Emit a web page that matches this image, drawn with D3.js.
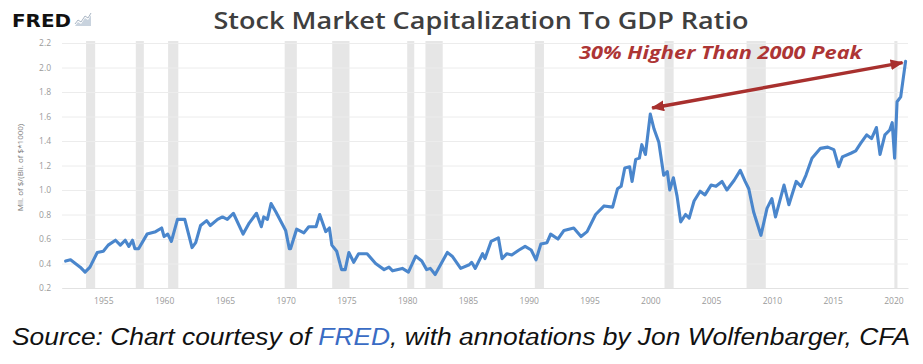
<!DOCTYPE html>
<html>
<head>
<meta charset="utf-8">
<script src="https://cdn.jsdelivr.net/npm/d3@7"></script>
<style>
  html, body { margin: 0; padding: 0; background: #fff; }
  svg { display: block; }
</style>
</head>
<body>
<svg id="chart" width="923" height="364"></svg>
<script>
// ---------------- DATA ----------------
const title = "Stock Market Capitalization To GDP Ratio";
const yAxisTitle = "Mil. of $/(Bil. of $*1000)";
const annotationText = "30% Higher Than 2000 Peak";
const sourcePrefix = "Source: Chart courtesy of ";
const sourceLink = "FRED";
const sourceSuffix = ", with annotations by Jon Wolfenbarger, CFA";

const xTicks = [1955, 1960, 1965, 1970, 1975, 1980, 1985, 1990, 1995, 2000, 2005, 2010, 2015, 2020];
const yTicks = [0.2, 0.4, 0.6, 0.8, 1.0, 1.2, 1.4, 1.6, 1.8, 2.0, 2.2];

const recessionStarts = [1953.58, 1957.67, 1960.33, 1969.92, 1973.83, 1980.0, 1981.5, 1990.5, 2001.17, 2007.92, 2020.08];
const recessionEnds   = [1954.33, 1958.33, 1961.17, 1970.92, 1975.25, 1980.58, 1982.92, 1991.25, 2001.92, 2009.5, 2020.33];

const years = [
  1951.9, 1952.3, 1952.7, 1953.1, 1953.5, 1953.9, 1954.5, 1955.0, 1955.4, 1956.0,
  1956.4, 1956.8, 1957.1, 1957.4, 1957.6, 1957.9, 1958.6, 1959.3, 1959.8, 1960.0,
  1960.3, 1960.6, 1961.1, 1961.7, 1962.3, 1962.6, 1963.0, 1963.5, 1963.8, 1964.4,
  1964.8, 1965.2, 1965.7, 1966.5, 1967.0, 1967.6, 1968.0, 1968.2, 1968.5, 1968.8,
  1969.2, 1970.0, 1970.3, 1970.4, 1970.9, 1971.5, 1971.9, 1972.5, 1972.8, 1973.3,
  1973.6, 1973.8, 1974.2, 1974.6, 1974.9, 1975.2, 1975.6, 1976.0, 1976.7, 1977.4,
  1978.1, 1978.5, 1978.8, 1979.6, 1980.1, 1980.7, 1981.2, 1981.6, 1981.9, 1982.3,
  1983.3, 1983.7, 1984.4, 1985.1, 1985.3, 1985.6, 1986.2, 1986.4, 1986.9, 1987.5,
  1987.8, 1988.2, 1988.6, 1989.2, 1989.7, 1990.2, 1990.6, 1991.0, 1991.5, 1991.8,
  1992.4, 1992.9, 1993.7, 1994.3, 1994.8, 1995.5, 1996.2, 1996.9, 1997.3, 1997.6,
  1997.9, 1998.3, 1998.5, 1998.8, 1999.1, 1999.3, 1999.6, 2000.0, 2000.3, 2000.7,
  2001.1, 2001.4, 2001.6, 2001.9, 2002.2, 2002.5, 2002.9, 2003.2, 2003.6, 2004.1,
  2004.5, 2005.0, 2005.4, 2005.9, 2006.3, 2006.9, 2007.4, 2007.8, 2008.1, 2008.5,
  2009.1, 2009.6, 2010.0, 2010.3, 2011.0, 2011.4, 2012.0, 2012.4, 2012.8, 2013.3,
  2014.0, 2014.6, 2015.1, 2015.5, 2015.8, 2016.5, 2016.9, 2017.3, 2017.8, 2018.2,
  2018.6, 2018.9, 2019.3, 2019.7, 2019.9, 2020.1, 2020.3, 2020.6, 2021.0
];
const values = [
  0.42, 0.43, 0.40, 0.37, 0.33, 0.37, 0.49, 0.50, 0.55, 0.59,
  0.55, 0.59, 0.54, 0.59, 0.52, 0.52, 0.64, 0.66, 0.69, 0.62,
  0.64, 0.58, 0.76, 0.76, 0.53, 0.57, 0.71, 0.75, 0.71, 0.76,
  0.78, 0.76, 0.81, 0.64, 0.73, 0.81, 0.70, 0.78, 0.76, 0.89,
  0.82, 0.67, 0.52, 0.52, 0.68, 0.65, 0.70, 0.70, 0.80, 0.66,
  0.69, 0.55, 0.50, 0.35, 0.35, 0.49, 0.41, 0.48, 0.48, 0.40,
  0.35, 0.37, 0.34, 0.36, 0.33, 0.46, 0.42, 0.35, 0.36, 0.31,
  0.49, 0.46, 0.36, 0.39, 0.41, 0.36, 0.48, 0.44, 0.58, 0.61,
  0.44, 0.48, 0.47, 0.51, 0.54, 0.51, 0.43, 0.56, 0.57, 0.64,
  0.60, 0.67, 0.69, 0.62, 0.66, 0.80, 0.87, 0.86, 1.01, 1.03,
  1.18, 1.19, 1.07, 1.25, 1.26, 1.37, 1.29, 1.62, 1.50, 1.39,
  1.12, 1.15, 1.00, 1.10, 0.95, 0.74, 0.80, 0.77, 0.91, 0.99,
  0.96, 1.04, 1.03, 1.07, 1.00, 1.08, 1.16, 1.07, 1.01, 0.82,
  0.63, 0.85, 0.93, 0.78, 1.04, 0.88, 1.07, 1.03, 1.12, 1.26,
  1.34, 1.35, 1.33, 1.19, 1.27, 1.30, 1.32, 1.38, 1.45, 1.42,
  1.51, 1.29, 1.45, 1.49, 1.55, 1.26, 1.72, 1.76, 2.05
];

// annotation arrow endpoints in data units [year, value]
const arrowFrom = [2000.15, 1.67];
const arrowTo = [2020.75, 2.04];

// ---------------- DRAW ----------------
const svg = d3.select("#chart");
const x = d3.scaleLinear().domain([1951.6, 2021.2]).range([62, 908]);
const y = d3.scaleLinear().domain([0.2, 2.2]).range([288, 43]);

// recession shading
svg.append("g").selectAll("rect")
  .data(recessionStarts.map((s, i) => [s, recessionEnds[i]]))
  .join("rect")
  .attr("x", d => x(d[0]))
  .attr("width", d => Math.max(3, x(d[1]) - x(d[0])))
  .attr("y", y(2.2) - 2)
  .attr("height", y(0.2) - y(2.2) + 2)
  .attr("fill", "#e6e6e6");

// y grid + labels
const yAxis = svg.append("g")
  .attr("transform", `translate(${x.range()[0]},0)`)
  .call(d3.axisLeft(y).tickValues(yTicks).tickFormat(d3.format(".1f"))
    .tickSize(-(x.range()[1] - x.range()[0])).tickPadding(11));
yAxis.select(".domain").remove();
yAxis.selectAll(".tick line").attr("stroke", "#ececec").attr("stroke-width", 1);
yAxis.selectAll(".tick text").attr("fill", "#9a9a9a")
  .style("font-family", "'Open Sans', sans-serif").style("font-size", "8.5px");

// x axis labels
const xAxis = svg.append("g")
  .attr("transform", `translate(0,${y(0.2)})`)
  .call(d3.axisBottom(x).tickValues(xTicks).tickFormat(d3.format("d")).tickSize(0).tickPadding(10));
xAxis.select(".domain").attr("stroke", "#e2e2e2");
xAxis.selectAll(".tick text").attr("fill", "#9a9a9a")
  .style("font-family", "'Open Sans', sans-serif").style("font-size", "8.5px");

// y axis title
svg.append("text")
  .attr("transform", `translate(23,${(y(2.2) + y(0.2)) / 2 + 2}) rotate(-90)`)
  .attr("text-anchor", "middle")
  .attr("fill", "#7a7a7a")
  .style("font-family", "'Open Sans', sans-serif").style("font-size", "8px")
  .text(yAxisTitle);

// line
const line = d3.line().x(d => x(d[0])).y(d => y(d[1])).curve(d3.curveLinear);
svg.append("path")
  .datum(years.map((yr, i) => [yr, values[i]]))
  .attr("d", line)
  .attr("fill", "none")
  .attr("stroke", "#4a86cc")
  .attr("stroke-width", 3.1)
  .attr("stroke-linejoin", "round")
  .attr("stroke-linecap", "round");

// title
svg.append("text")
  .attr("x", 481).attr("y", 29)
  .attr("text-anchor", "middle")
  .attr("fill", "#3f3f3f")
  .attr("textLength", 535).attr("lengthAdjust", "spacingAndGlyphs")
  .style("font-family", "'Open Sans', sans-serif").style("font-weight", "600").style("font-size", "23px")
  .text(title);

// FRED logo
const logo = svg.append("g");
logo.append("text")
  .attr("x", 12).attr("y", 26.5)
  .attr("fill", "#111")
  .attr("textLength", 59).attr("lengthAdjust", "spacingAndGlyphs")
  .style("font-family", "'DejaVu Sans', sans-serif").style("font-weight", "900").style("font-size", "17px")
  .text("FRED");
logo.append("path")
  .attr("d", "M75,26 L78,22 L81,24 L85,18 L88,20 L91,15 L91,26 Z")
  .attr("fill", "#c9d3de");
logo.append("path")
  .attr("d", "M75,24 L78,20 L81,22 L85,16 L88,18 L91,13")
  .attr("fill", "none").attr("stroke", "#aab6c4").attr("stroke-width", 1);

// annotation
const defs = svg.append("defs");
defs.append("marker")
  .attr("id", "head").attr("viewBox", "0 0 12 10")
  .attr("refX", 11).attr("refY", 5)
  .attr("markerWidth", 13).attr("markerHeight", 11)
  .attr("markerUnits", "userSpaceOnUse")
  .attr("orient", "auto-start-reverse")
  .append("path").attr("d", "M0,0 L12,5 L0,10 Z").attr("fill", "#a8302e");

svg.append("line")
  .attr("x1", x(arrowFrom[0])).attr("y1", y(arrowFrom[1]))
  .attr("x2", x(arrowTo[0])).attr("y2", y(arrowTo[1]))
  .attr("stroke", "#a8302e").attr("stroke-width", 3.5)
  .attr("marker-start", "url(#head)").attr("marker-end", "url(#head)");

svg.append("text")
  .attr("x", 579).attr("y", 59)
  .attr("fill", "#ad3535")
  .attr("textLength", 283).attr("lengthAdjust", "spacingAndGlyphs")
  .style("font-family", "'Open Sans', sans-serif").style("font-weight", "700")
  .style("font-style", "italic").style("font-size", "18px")
  .text(annotationText);

// source line
const src = svg.append("text")
  .attr("x", 12).attr("y", 345)
  .attr("fill", "#111")
  .attr("textLength", 898).attr("lengthAdjust", "spacingAndGlyphs")
  .style("font-family", "'Liberation Sans', Arial, sans-serif")
  .style("font-style", "italic").style("font-size", "23px");
src.append("tspan").text(sourcePrefix);
src.append("tspan").attr("fill", "#3a6cc4").text(sourceLink);
src.append("tspan").text(sourceSuffix);
</script>
</body>
</html>
